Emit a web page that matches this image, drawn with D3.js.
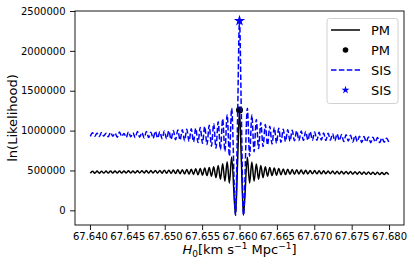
<!DOCTYPE html>
<html>
<head>
<meta charset="utf-8">
<script src="https://cdn.jsdelivr.net/npm/d3@7"></script>
<style>
  body { margin: 0; background: #fff; }
  svg { display: block; font-family: "DejaVu Sans", sans-serif; }
</style>
</head>
<body>
<div id="viz"></div>
<script>
// H0 grid (km/s/Mpc) the likelihoods were read at
var h0 = [
  67.64005, 67.64035, 67.64065, 67.64095, 67.64125, 67.64155, 67.64185, 67.64215,
  67.64245, 67.64275, 67.64305, 67.64335, 67.64365, 67.64395, 67.64425, 67.64455,
  67.64485, 67.64515, 67.64545, 67.64575, 67.64605, 67.64635, 67.64665, 67.64695,
  67.64725, 67.64755, 67.64785, 67.64815, 67.64845, 67.64875, 67.64905, 67.64935,
  67.64965, 67.64995, 67.65025, 67.65055, 67.65085, 67.65115, 67.65145, 67.65175,
  67.65205, 67.65235, 67.65265, 67.65295, 67.65325, 67.65355, 67.65385, 67.65415,
  67.65445, 67.65475, 67.65505, 67.65535, 67.65565, 67.65595, 67.65625, 67.65655,
  67.65685, 67.65715, 67.65745, 67.65775, 67.65805, 67.65835, 67.65865, 67.65895,
  67.65947, 67.65975, 67.66000, 67.66025, 67.66053,
  67.66105, 67.66135, 67.66165, 67.66195, 67.66225, 67.66255, 67.66285, 67.66315,
  67.66345, 67.66375, 67.66405, 67.66435, 67.66465, 67.66495, 67.66525, 67.66555,
  67.66585, 67.66615, 67.66645, 67.66675, 67.66705, 67.66735, 67.66765, 67.66795,
  67.66825, 67.66855, 67.66885, 67.66915, 67.66945, 67.66975, 67.67005, 67.67035,
  67.67065, 67.67095, 67.67125, 67.67155, 67.67185, 67.67215, 67.67245, 67.67275,
  67.67305, 67.67335, 67.67365, 67.67395, 67.67425, 67.67455, 67.67485, 67.67515,
  67.67545, 67.67575, 67.67605, 67.67635, 67.67665, 67.67695, 67.67725, 67.67755,
  67.67785, 67.67815, 67.67845, 67.67875, 67.67905, 67.67935, 67.67965, 67.67995
];

// ln(Likelihood), point mass lens
var pm = [
  465000, 491000, 466000, 492000, 466000, 491000, 467000, 492000,
  467000, 493000, 468000, 492000, 468000, 494000, 468000, 493000,
  469000, 495000, 469000, 494000, 469000, 496000, 469000, 497000,
  469000, 498000, 468000, 499000, 468000, 500000, 467000, 501000,
  466000, 503000, 465000, 504000, 463000, 506000, 461000, 508000,
  459000, 510000, 456000, 513000, 453000, 516000, 450000, 520000,
  446000, 525000, 442000, 531000, 436000, 538000, 428000, 548000,
  410000, 562000, 390000, 585000, 365000, 610000, 340000, 670000,
  -62000, 620000, 1257000, 620000, -62000,
  665000, 342000, 605000, 367000, 582000, 390000, 562000, 410000,
  548000, 428000, 538000, 436000, 530000, 441000, 524000, 445000,
  519000, 448000, 515000, 451000, 511000, 453000, 508000, 455000,
  505000, 456000, 502000, 457000, 500000, 458000, 498000, 458000,
  496000, 458000, 495000, 458000, 493000, 458000, 492000, 457000,
  491000, 457000, 489000, 456000, 488000, 456000, 487000, 455000,
  485000, 454000, 484000, 453000, 482000, 452000, 481000, 451000,
  479000, 450000, 478000, 449000, 476000, 448000, 475000, 448000
];

// ln(Likelihood), singular isothermal sphere lens
var sis = [
  928000, 972000, 930000, 968000, 925000, 975000, 932000, 966000,
  922000, 978000, 928000, 970000, 918000, 982000, 926000, 965000,
  915000, 985000, 922000, 972000, 912000, 988000, 918000, 975000,
  908000, 990000, 912000, 980000, 904000, 992000, 905000, 985000,
  898000, 995000, 895000, 998000, 890000, 1002000, 885000, 1006000,
  880000, 1010000, 873000, 1016000, 866000, 1022000, 858000, 1030000,
  850000, 1040000, 840000, 1052000, 825000, 1066000, 805000, 1085000,
  780000, 1110000, 760000, 1145000, 740000, 1200000, 680000, 1280000,
  -62000, 1200000, 2378000, 1200000, -62000,
  1280000, 680000, 1195000, 735000, 1140000, 775000, 1100000, 800000,
  1075000, 818000, 1055000, 832000, 1040000, 842000, 1028000, 853000,
  1018000, 862000, 1010000, 868000, 1003000, 873000, 998000, 876000,
  994000, 878000, 990000, 880000, 986000, 880000, 983000, 878000,
  978000, 882000, 970000, 876000, 968000, 880000, 962000, 870000,
  958000, 875000, 950000, 862000, 948000, 868000, 942000, 858000,
  938000, 862000, 930000, 852000, 925000, 858000, 920000, 848000,
  918000, 855000, 912000, 850000, 910000, 853000, 905000, 858000
];

// best fits marked on top of the curves
var pmPeak = [67.660, 1257000];
var sisPeak = [67.660, 2378000];

var xTicks = [67.640, 67.645, 67.650, 67.655, 67.660, 67.665, 67.670, 67.675, 67.680];
var yTicks = [0, 500000, 1000000, 1500000, 2000000, 2500000];
var legendLabels = ['PM', 'PM', 'SIS', 'SIS'];

var margin = {top: 11, right: 11, bottom: 44, left: 75},
    width = 415,
    height = 269;

var x = d3.scaleLinear()
  .domain([67.638, 67.682])
  .range([margin.left, width - margin.right]);

var y = d3.scaleLinear()
  .domain([-184000, 2500000])
  .range([height - margin.bottom, margin.top]);

var svg = d3.select('#viz')
  .append('svg')
  .attr('width', width)
  .attr('height', height);

svg.append('clipPath')
  .attr('id', 'plotArea')
  .append('rect')
  .attr('x', margin.left)
  .attr('y', margin.top)
  .attr('width', width - margin.left - margin.right)
  .attr('height', height - margin.top - margin.bottom);

var line = d3.line()
  .x((d, i) => x(h0[i]))
  .y(d => y(d))
  .curve(d3.curveMonotoneX);

var plot = svg.append('g').attr('clip-path', 'url(#plotArea)');

plot.append('path')
  .datum(pm)
  .attr('fill', 'none')
  .attr('stroke', 'black')
  .attr('stroke-width', 1.5)
  .attr('d', line);

plot.append('circle')
  .attr('cx', x(pmPeak[0]))
  .attr('cy', y(pmPeak[1]))
  .attr('r', 3.5)
  .attr('fill', 'black');

plot.append('path')
  .datum(sis)
  .attr('fill', 'none')
  .attr('stroke', 'blue')
  .attr('stroke-width', 1.5)
  .attr('stroke-dasharray', '5.5,2.4')
  .attr('d', line);

svg.append('path')
  .attr('transform', 'translate(' + x(sisPeak[0]) + ',' + y(sisPeak[1]) + ')')
  .attr('d', d3.symbol(d3.symbolStar, 40)())
  .attr('fill', 'blue');

// axes
var xAxis = svg.append('g')
  .attr('transform', 'translate(0,' + (height - margin.bottom) + ')')
  .call(d3.axisBottom(x).tickValues(xTicks).tickFormat(d3.format('.3f'))
    .tickSize(5).tickPadding(3.2).tickSizeOuter(0));

var yAxis = svg.append('g')
  .attr('transform', 'translate(' + margin.left + ',0)')
  .call(d3.axisLeft(y).tickValues(yTicks).tickFormat(d3.format('d'))
    .tickSize(5).tickPadding(4.5).tickSizeOuter(0));

[xAxis, yAxis].forEach(function(g) {
  g.select('.domain').remove();
  g.selectAll('line').attr('stroke', 'black').attr('stroke-width', 0.9);
  g.selectAll('text').attr('fill', 'black').style('font-size', '10px')
    .style('font-family', '"DejaVu Sans", sans-serif');
});

svg.append('rect')
  .attr('x', margin.left)
  .attr('y', margin.top)
  .attr('width', width - margin.left - margin.right)
  .attr('height', height - margin.top - margin.bottom)
  .attr('fill', 'none')
  .attr('stroke', 'black')
  .attr('stroke-width', 0.9);

// axis titles
var xTitle = svg.append('text')
  .attr('x', (margin.left + width - margin.right) / 2)
  .attr('y', 254)
  .attr('text-anchor', 'middle')
  .style('font-size', '13px');
xTitle.append('tspan').style('font-style', 'italic').text('H');
xTitle.append('tspan').attr('dy', 3).style('font-size', '9px').text('0');
xTitle.append('tspan').attr('dy', -3).text('[km s');
xTitle.append('tspan').attr('dy', -5).style('font-size', '9px').text('\u22121');
xTitle.append('tspan').attr('dy', 5).text(' Mpc');
xTitle.append('tspan').attr('dy', -5).style('font-size', '9px').text('\u22121');
xTitle.append('tspan').attr('dy', 5).text(']');

svg.append('text')
  .attr('transform', 'translate(17,' + ((margin.top + height - margin.bottom) / 2) + ') rotate(-90)')
  .attr('text-anchor', 'middle')
  .style('font-size', '13px')
  .text('ln(Likelihood)');

// legend
var legend = svg.append('g');
legend.append('rect')
  .attr('x', 327).attr('y', 18.5)
  .attr('width', 71).attr('height', 85)
  .attr('rx', 2.5)
  .attr('fill', 'white').attr('fill-opacity', 0.8)
  .attr('stroke', '#cccccc').attr('stroke-width', 0.9);

var rows = legend.selectAll('g.row')
  .data(legendLabels)
  .join('g')
  .attr('class', 'row')
  .attr('transform', (d, i) => 'translate(0,' + (30 + i * 20) + ')');

rows.append('text')
  .attr('x', 371)
  .attr('y', 4.7)
  .style('font-size', '13px')
  .text(d => d);

rows.filter((d, i) => i === 0).append('line')
  .attr('x1', 331).attr('x2', 360)
  .attr('stroke', 'black').attr('stroke-width', 1.5);
rows.filter((d, i) => i === 1).append('circle')
  .attr('cx', 345.5).attr('r', 2.8).attr('fill', 'black');
rows.filter((d, i) => i === 2).append('line')
  .attr('x1', 331).attr('x2', 360)
  .attr('stroke', 'blue').attr('stroke-width', 1.5)
  .attr('stroke-dasharray', '5.5,2.4');
rows.filter((d, i) => i === 3).append('path')
  .attr('transform', 'translate(345.5,0)')
  .attr('d', d3.symbol(d3.symbolStar, 20)())
  .attr('fill', 'blue');
</script>
</body>
</html>
